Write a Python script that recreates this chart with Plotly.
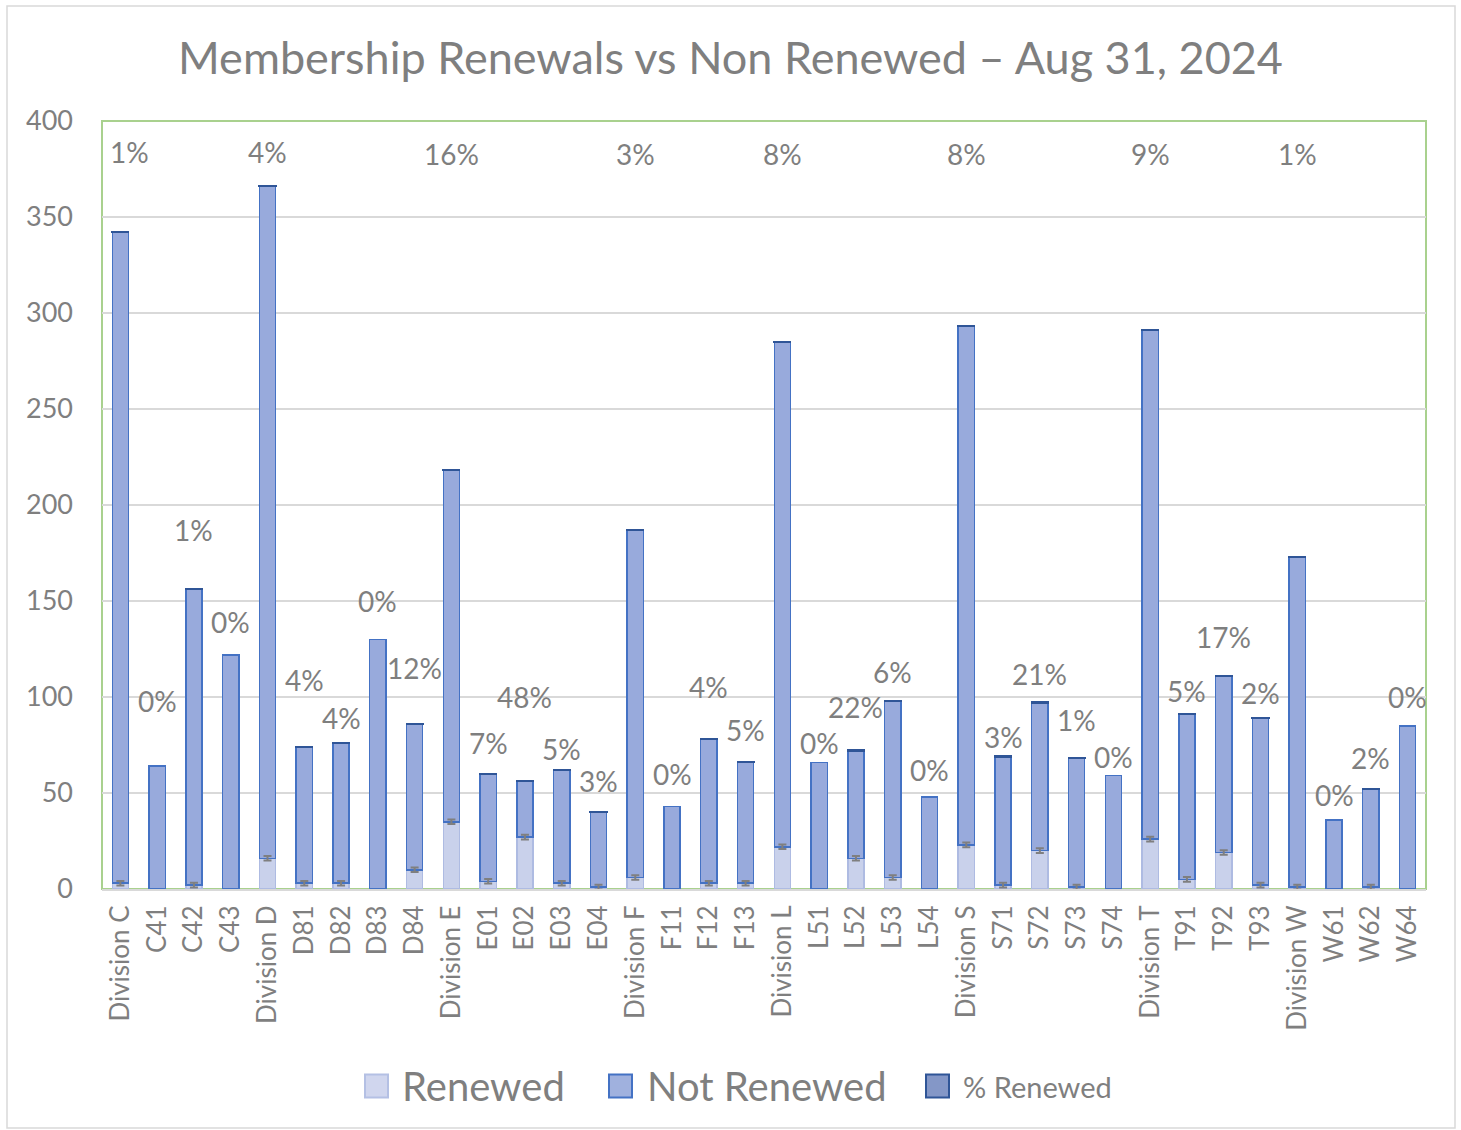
import plotly.graph_objects as go

categories = ["Division C", "C41", "C42", "C43", "Division D", "D81", "D82", "D83", "D84",
              "Division E", "E01", "E02", "E03", "E04", "Division F", "F11", "F12", "F13",
              "Division L", "L51", "L52", "L53", "L54", "Division S", "S71", "S72", "S73", "S74",
              "Division T", "T91", "T92", "T93", "Division W", "W61", "W62", "W64"]

renewed = [3, 0, 2, 0, 16, 3, 3, 0, 10,
           35, 4, 27, 3, 1, 6, 0, 3, 3,
           22, 0, 16, 6, 0, 23, 2, 20, 1, 0,
           26, 5, 19, 2, 1, 0, 1, 0]

not_renewed = [339, 64, 154, 122, 350, 71, 73, 130, 76,
               183, 56, 29, 59, 39, 181, 43, 75, 63,
               263, 66, 56, 92, 48, 270, 67, 77, 67, 59,
               265, 86, 92, 87, 172, 36, 51, 85]

pct_renewed = [1, 0, 1, 0, 4, 4, 4, 0, 12,
               16, 7, 48, 5, 3, 3, 0, 4, 5,
               8, 0, 22, 6, 0, 8, 3, 21, 1, 0,
               9, 5, 17, 2, 1, 0, 2, 0]

# heights (in axis units) where the % labels sit in the reference
pct_label_y = [384, 98, 187, 139, 384, 109, 89, 150, 115,
               383, 76, 100, 73, 56, 383, 60, 105, 83,
               383, 76, 95, 113, 62, 383, 79, 112, 88, 69,
               383, 103, 131, 102, 383, 49, 68, 100]

series_names = ["Renewed", "Not Renewed", "% Renewed"]

FONT = "Lato"
GREY = "#7f7f7f"

fig = go.Figure()
fig.add_trace(go.Bar(
    name=series_names[0], x=categories, y=renewed,
    marker=dict(color="#c9d1eb", line=dict(color="#aebbe2", width=1.5)),
))
fig.add_trace(go.Bar(
    name=series_names[1], x=categories, y=not_renewed,
    marker=dict(color="#98aadc", line=dict(color="#4472c4", width=1.5)),
))
fig.add_trace(go.Bar(
    name=series_names[2], x=categories,
    y=[p / 100 if p else None for p in pct_renewed],
    marker=dict(color="#8497c7", line=dict(color="#2f5597", width=2)),
))
# grey boundary marks between renewed and not renewed
fig.add_trace(go.Scatter(
    x=[c for c, r in zip(categories, renewed) if r > 0],
    y=[r for r in renewed if r > 0],
    mode="markers", marker=dict(size=0.1, opacity=0),
    error_y=dict(type="constant", value=1.2, color="#7f7f7f", thickness=2, width=4),
    showlegend=False, hoverinfo="skip",
))

for i, (c, p, ly) in enumerate(zip(categories, pct_renewed, pct_label_y)):
    fig.add_annotation(x=c, y=ly, text=f"{p}%", showarrow=False,
                       font=dict(family=FONT, size=28, color=GREY),
                       xanchor="center", yanchor="middle",
                       xshift=9 if i == 0 else 0)

W, H = 1461, 1130
L, R, T, B = 102, 35, 121, 241
pw, ph = W - L - R, H - T - B

def px(x):
    return (x - L) / pw

def py(y):
    return (H - B - y) / ph

fig.add_shape(type="rect", xref="paper", yref="paper",
              x0=px(7), x1=px(1455), y0=py(1128), y1=py(6),
              line=dict(color="#d9d9d9", width=1.5), layer="below")
fig.add_shape(type="rect", xref="paper", yref="paper",
              x0=0, x1=1, y0=0, y1=1,
              line=dict(color="#a9d18e", width=2), layer="below")

# custom legend (large swatches as in the reference)
leg_items = [
    (series_names[0], 365, 400, 40, "#d0d6ee", "#b4c0e4"),
    (series_names[1], 609, 645, 40, "#a0b1de", "#4472c4"),
    (series_names[2], 926, 961, 29, "#8497c7", "#2f5597"),
]
ly_c = 1086
for name, bx, tx, fs, fill, edge in leg_items:
    fig.add_shape(type="rect", xref="paper", yref="paper",
                  x0=px(bx), x1=px(bx + 23), y0=py(ly_c + 11.5), y1=py(ly_c - 11.5),
                  fillcolor=fill, line=dict(color=edge, width=2))
    fig.add_annotation(xref="paper", yref="paper", x=px(tx), y=py(ly_c),
                       text=name, showarrow=False, xanchor="left", yanchor="middle",
                       font=dict(family=FONT, size=fs, color=GREY))

fig.update_layout(
    width=W, height=H,
    margin=dict(l=L, r=R, t=T, b=B, autoexpand=False),
    barmode="stack", bargap=0.56,
    plot_bgcolor="white", paper_bgcolor="white",
    font=dict(family=FONT, color=GREY),
    title=dict(text="Membership Renewals vs Non Renewed \u2013 Aug 31, 2024",
               x=0.5, xref="container", xanchor="center",
               y=1 - 58 / H, yref="container", yanchor="middle",
               font=dict(family=FONT, size=45, color=GREY)),
    showlegend=False,
)
fig.update_yaxes(range=[0, 400], dtick=50, showgrid=True, gridcolor="#d9d9d9", gridwidth=1.5,
                 zeroline=False, tickfont=dict(family=FONT, size=27, color=GREY),
                 ticks="", ticklabelstandoff=28, showline=False)
fig.update_xaxes(range=[-0.5, len(categories) - 0.5],
                 tickangle=-90, tickfont=dict(family=FONT, size=26, color=GREY),
                 showline=True, linecolor="#d9d9d9", linewidth=2, ticks="",
                 ticklabelstandoff=4)

fig.write_html("out.html", config={"displayModeBar": False},
               post_script="document.body.style.margin='0';")
